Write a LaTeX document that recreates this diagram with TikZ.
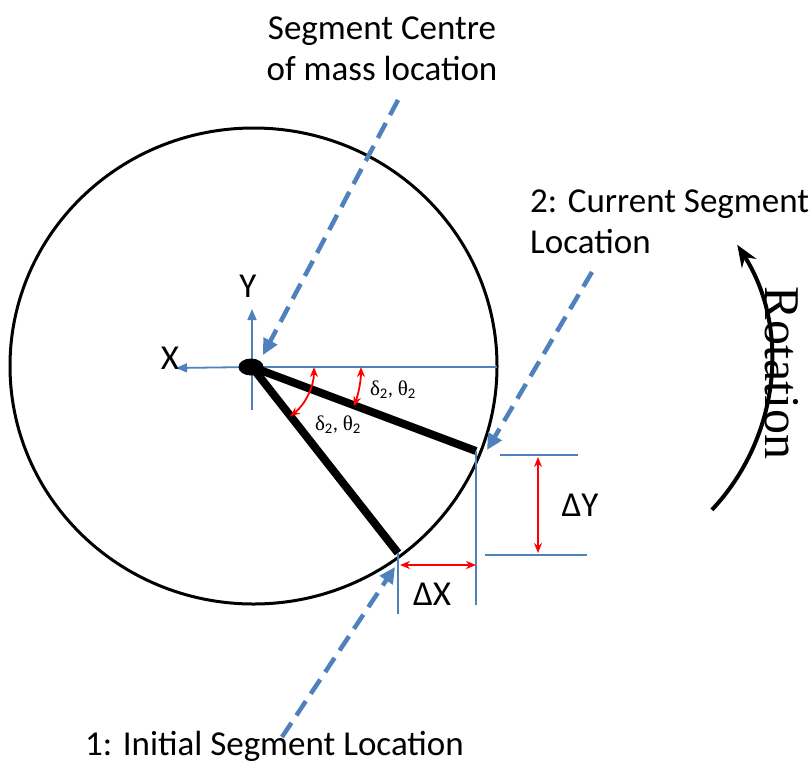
\documentclass[tikz,border=0pt]{standalone}
\usepackage{fontspec}
\setmainfont{Carlito}
\newfontfamily\tms{Liberation Serif}
\usetikzlibrary{arrows.meta,shapes.geometric}
\definecolor{obl}{RGB}{79,129,189}
\definecolor{rd}{RGB}{255,0,0}
\begin{document}
\begin{tikzpicture}[x=1pt,y=-1pt,
  lbl/.style={font=\fontsize{35}{41}\selectfont, inner sep=0pt},
  small/.style={font=\fontsize{21}{24}\selectfont, inner sep=0pt},
  dashln/.style={obl, line width=4.5pt, dash pattern=on 17pt off 9pt,
     -{Triangle[length=16pt,width=15pt]}},
  thinblue/.style={obl, line width=1.5pt},
  axisarr/.style={obl, line width=1.8pt, -{Triangle[length=11pt,width=9pt]}},
  redarr/.style={rd, line width=1.8pt, {Stealth[length=10pt,width=8pt]}-{Stealth[length=10pt,width=8pt]}},
  bar/.style={line width=8pt, black},
  rot/.style={line width=4pt, black, -{Stealth[length=22pt,width=17pt]}}]
\useasboundingbox (0,0) rectangle (811,764);

% wheel
\draw[line width=3pt] (253.5,366) ellipse [x radius=243.5, y radius=238];

% reference lines
\draw[thinblue] (252,367) -- (497,367);
\draw[axisarr] (252,410) -- (252,309);
\draw[axisarr] (252,367) -- (176,368);

% segment bars
\coordinate (e1) at (476,451);
\coordinate (e2) at (398,553);
\draw[bar] (252,367) -- (e1);
\draw[bar] (252,367) -- (e2);

% hub
\node (hub) [ellipse, fill=black, minimum width=25pt, minimum height=17pt, inner sep=0pt] at (251,367) {};

% angle arcs
\draw[redarr] (hub.center) ++(0:63) arc[start angle=0, end angle=51.7, radius=63];
\draw[redarr] (hub.center) ++(0:110) arc[start angle=0, end angle=20.9, radius=110];
\node (a1) [small] at (393,390) {{\tms δ}\textsubscript{2}, {\tms θ}\textsubscript{2}};
\node (a2) [small] at (338,425) {{\tms δ}\textsubscript{2}, {\tms θ}\textsubscript{2}};

% axis labels
\node (xl) [lbl] at (170,358) {X};
\node (yl) [lbl] at (248,286) {Y};

% dashed pointers
\coordinate (cmS) at (398,100);
\coordinate (cmE) at (263,355);
\draw[dashln] (cmS) -- (cmE);
\coordinate (cuS) at (592,272);
\coordinate (cuE) at (487,450);
\draw[dashln] (cuS) -- (cuE);
\coordinate (inS) at (282,737);
\coordinate (inE) at (395,567);
\draw[dashln] (inS) -- (inE);

% delta construction
\draw[thinblue] (398,553) -- (398,614);
\draw[thinblue] (476,451) -- (476,605);
\draw[thinblue] (500,455) -- (578,455);
\draw[thinblue] (485,555) -- (587,555);
\coordinate (dx1) at (400,565);
\coordinate (dx2) at (476,565);
\draw[redarr] (dx1) -- (dx2);
\coordinate (dy1) at (538,457);
\coordinate (dy2) at (538,553);
\draw[redarr] (dy1) -- (dy2);
\node (dxl) [lbl] at (432,594) {ΔX};
\node (dyl) [lbl] at (580,505) {ΔY};

% rotation
\draw[rot] (554,361) ++(43.3:217) arc[start angle=43.3, end angle=-32.4, radius=217];
\node (rt) [font=\tms\fontsize{50}{50}\selectfont, inner sep=0pt, rotate=-90] at (782,373) {Rotation};

% titles
\node (t1) [lbl, align=center, anchor=base] at (382,80) {Segment Centre\\of mass location};
\node (t2) [lbl, align=left, anchor=base west] at (530,253) {2: Current Segment\\Location};
\node (t3) [lbl, anchor=base west] at (85,755) {1: Initial Segment Location};
\end{tikzpicture}
\end{document}
